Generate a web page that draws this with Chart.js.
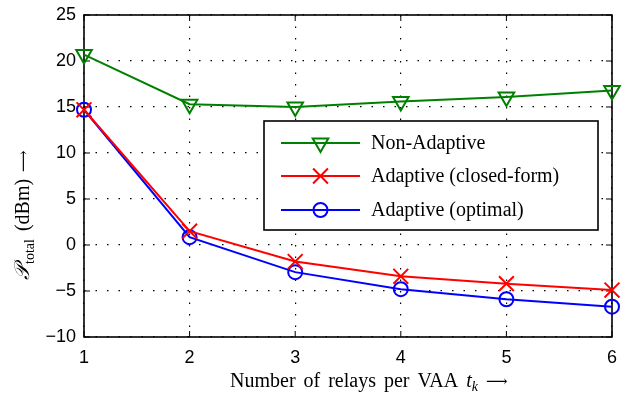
<!DOCTYPE html>
<html>
<head>
<meta charset="utf-8">
<script src="https://cdn.jsdelivr.net/npm/chart.js@4.4.0/dist/chart.umd.min.js"></script>
<style>
html, body { margin: 0; padding: 0; background: #fff; }
#wrap { width: 625px; height: 398px; }
</style>
</head>
<body>
<div id="wrap"><canvas id="relayChart" width="625" height="398"></canvas></div>
<script>
'use strict';

const relays = [1, 2, 3, 4, 5, 6];
const nonAdaptive = [20.7, 15.3, 15.0, 15.6, 16.1, 16.8];
const adaptiveClosed = [14.7, 1.5, -1.8, -3.4, -4.2, -4.9];
const adaptiveOptimal = [14.7, 0.85, -2.95, -4.8, -5.9, -6.7];
const yTicks = [-10, -5, 0, 5, 10, 15, 20, 25];
const seriesLabels = ['Non-Adaptive', 'Adaptive (closed-form)', 'Adaptive (optimal)'];

const SERIF = '"Liberation Serif", "DejaVu Serif", serif';
const SANS = '"Liberation Sans", Arial, sans-serif';
const ARROW_FONT = '15px "DejaVu Serif", "DejaVu Sans", serif';
const ARROW = '\u27F6';

function toPoints(values) {
    return relays.map((r, i) => ({ x: r, y: values[i] }));
}

// frame + inward tick marks, drawn before the lines so markers sit on top
const framePlugin = {
    id: 'frame',
    beforeDatasetsDraw(chart) {
        const ctx = chart.ctx;
        const a = chart.chartArea;
        const xs = chart.scales.x, ys = chart.scales.y;
        ctx.save();
        ctx.strokeStyle = '#000';
        ctx.lineWidth = 1.6;
        ctx.strokeRect(a.left, a.top, a.right - a.left, a.bottom - a.top);
        ctx.lineWidth = 1;
        ctx.beginPath();
        relays.forEach(v => {
            const px = xs.getPixelForValue(v);
            ctx.moveTo(px, a.bottom); ctx.lineTo(px, a.bottom - 6);
            ctx.moveTo(px, a.top); ctx.lineTo(px, a.top + 6);
        });
        yTicks.forEach(v => {
            const py = ys.getPixelForValue(v);
            ctx.moveTo(a.left, py); ctx.lineTo(a.left + 6, py);
            ctx.moveTo(a.right, py); ctx.lineTo(a.right - 6, py);
        });
        ctx.stroke();
        ctx.restore();
    }
};

function drawMarker(ctx, ds, x, y) {
    const opts = {
        pointStyle: ds.pointStyle,
        rotation: ds.pointRotation || 0,
        radius: ds.pointRadius,
        borderWidth: ds.pointBorderWidth
    };
    ctx.strokeStyle = ds.borderColor;
    ctx.fillStyle = 'rgba(0,0,0,0)';
    ctx.lineWidth = ds.pointBorderWidth;
    if (Chart.helpers && Chart.helpers.drawPoint) {
        Chart.helpers.drawPoint(ctx, opts, x, y);
    } else {
        ctx.beginPath();
        ctx.arc(x, y, ds.pointRadius, 0, Math.PI * 2);
        ctx.stroke();
    }
}

const legendPlugin = {
    id: 'boxLegend',
    afterDraw(chart) {
        const ctx = chart.ctx;
        const box = { left: 264, top: 121, right: 598, bottom: 230 };
        ctx.save();
        ctx.fillStyle = '#fff';
        ctx.fillRect(box.left, box.top, box.right - box.left, box.bottom - box.top);
        ctx.strokeStyle = '#000';
        ctx.lineWidth = 1.6;
        ctx.strokeRect(box.left, box.top, box.right - box.left, box.bottom - box.top);
        const rows = [143, 176, 210];
        chart.data.datasets.forEach((ds, i) => {
            const y = rows[i];
            ctx.strokeStyle = ds.borderColor;
            ctx.lineWidth = ds.borderWidth;
            ctx.beginPath();
            ctx.moveTo(281, y);
            ctx.lineTo(360, y);
            ctx.stroke();
            drawMarker(ctx, ds, 320.5, y);
            ctx.fillStyle = '#000';
            ctx.font = '20px ' + SERIF;
            ctx.textAlign = 'left';
            ctx.textBaseline = 'middle';
            ctx.fillText(ds.label, 371, y + 1);
        });
        ctx.restore();
    }
};

const titlesPlugin = {
    id: 'axisTitles',
    afterDraw(chart) {
        const ctx = chart.ctx;
        ctx.save();
        ctx.fillStyle = '#000';
        ctx.textBaseline = 'alphabetic';
        ctx.textAlign = 'left';

        // x title: Number of relays per VAA t_k ->
        const words = ['Number', 'of', 'relays', 'per', 'VAA'];
        const gap = 8;
        let x = 230;
        const yb = 387;
        ctx.font = '20px ' + SERIF;
        words.forEach(w => {
            ctx.fillText(w, x, yb);
            x += ctx.measureText(w).width + gap;
        });
        ctx.font = 'italic 20px ' + SERIF;
        ctx.fillText('t', x, yb); x += ctx.measureText('t').width;
        ctx.font = 'italic 14px ' + SERIF;
        ctx.fillText('k', x, yb + 4); x += ctx.measureText('k').width + gap;
        ctx.font = ARROW_FONT;
        ctx.fillText(ARROW, x, yb - 1);

        // y title: P_total (dBm) ->, reading upwards
        ctx.translate(29, 280);
        ctx.rotate(-Math.PI / 2);
        let p = 0;
        ctx.font = 'italic 21px ' + SERIF;
        ctx.fillText('\uD835\uDCAB', p, 0); p += ctx.measureText('\uD835\uDCAB').width + 1;
        ctx.font = '14px ' + SERIF;
        ctx.fillText('total', p, 5); p += ctx.measureText('total').width + 8;
        ctx.font = '20px ' + SERIF;
        ctx.fillText('(dBm)', p, 0); p += ctx.measureText('(dBm)').width + 7;
        ctx.font = ARROW_FONT;
        ctx.fillText(ARROW, p, -1);
        ctx.restore();
    }
};

const ctx = document.getElementById('relayChart').getContext('2d');
new Chart(ctx, {
    type: 'line',
    data: {
        datasets: [{
            label: seriesLabels[0],
            data: toPoints(nonAdaptive),
            borderColor: '#008000',
            borderWidth: 2,
            pointStyle: 'triangle',
            pointRotation: 180,
            pointRadius: 9,
            pointBorderWidth: 2,
            pointBackgroundColor: 'rgba(0,0,0,0)',
            clip: false
        }, {
            label: seriesLabels[1],
            data: toPoints(adaptiveClosed),
            borderColor: '#ff0000',
            borderWidth: 2,
            pointStyle: 'crossRot',
            pointRadius: 10.5,
            pointBorderWidth: 2,
            pointBackgroundColor: 'rgba(0,0,0,0)',
            clip: false
        }, {
            label: seriesLabels[2],
            data: toPoints(adaptiveOptimal),
            borderColor: '#0000ff',
            borderWidth: 2,
            pointStyle: 'circle',
            pointRadius: 7,
            pointBorderWidth: 2,
            pointBackgroundColor: 'rgba(0,0,0,0)',
            clip: false
        }]
    },
    options: {
        responsive: false,
        animation: false,
        layout: { padding: { top: 15, right: 13, left: 0, bottom: 0 } },
        plugins: {
            legend: { display: false },
            tooltip: { enabled: false }
        },
        scales: {
            x: {
                type: 'linear',
                min: 1,
                max: 6,
                afterFit: s => { s.height = 61; s.paddingLeft = 0; s.paddingRight = 0; },
                afterBuildTicks: s => { s.ticks = relays.map(v => ({ value: v })); },
                ticks: {
                    color: '#000',
                    padding: 10,
                    maxRotation: 0,
                    font: { family: SANS, size: 18 }
                },
                grid: { color: '#000', lineWidth: 1.2, drawTicks: false },
                border: { display: false, dash: [1.5, 10] }
            },
            y: {
                min: -10,
                max: 25,
                afterFit: s => { s.width = 84; s.paddingTop = 0; s.paddingBottom = 0; },
                afterBuildTicks: s => { s.ticks = yTicks.map(v => ({ value: v })); },
                ticks: {
                    color: '#000',
                    padding: 8,
                    font: { family: SANS, size: 18 },
                    callback: v => String(v).replace('-', '\u2212')
                },
                grid: { color: '#000', lineWidth: 1.2, drawTicks: false },
                border: { display: false, dash: [1.5, 10] }
            }
        }
    },
    plugins: [framePlugin, legendPlugin, titlesPlugin]
});
</script>
</body>
</html>
